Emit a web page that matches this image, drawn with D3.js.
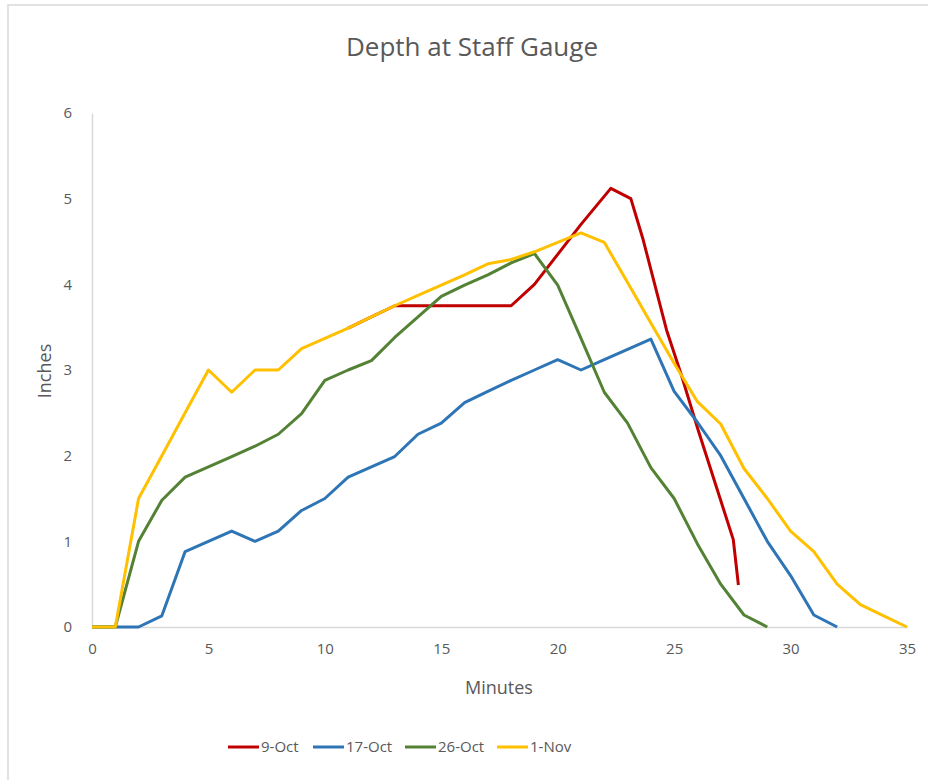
<!DOCTYPE html>
<html>
<head>
<meta charset="utf-8">
<script src="https://cdn.jsdelivr.net/npm/d3@7"></script>
<style>
  body { margin: 0; background: #fff; }
  svg { font-family: "Open Sans", "Liberation Sans", sans-serif; }
</style>
</head>
<body>
<div id="chart"></div>
<script>
// minutes for the three series read once a minute
var minutes = d3.range(0, 36);

var oct17 = [0, 0, 0, 0.13, 0.88, 1.0, 1.12, 1.0, 1.12, 1.36, 1.5, 1.75, 1.87, 1.99, 2.25, 2.38,
    2.62, 2.75, 2.88, 3.0, 3.12, 3.0, 3.12, 3.24, 3.36, 2.75, 2.39, 2.0, 1.5, 1.0, 0.6, 0.14, 0];
var oct26 = [0, 0, 1.0, 1.48, 1.75, 1.87, 1.99, 2.11, 2.25, 2.49, 2.88, 3.0, 3.11, 3.38, 3.62, 3.86,
    3.99, 4.11, 4.25, 4.36, 3.99, 3.37, 2.74, 2.38, 1.86, 1.5, 0.97, 0.5, 0.14, 0];
var nov1 = [0, 0, 1.5, 2.0, 2.5, 3.0, 2.74, 3.0, 3.0, 3.25, 3.37, 3.49, 3.62, 3.75, 3.87, 3.99,
    4.11, 4.24, 4.29, 4.38, 4.49, 4.6, 4.49, 4.02, 3.55, 3.08, 2.63, 2.37, 1.85, 1.5, 1.12, 0.88,
    0.5, 0.26, 0.13, 0];

// 9-Oct was not read on the minute
var oct9Minutes = [11, 12, 13, 14, 15, 16, 17, 18, 19, 20, 21, 22.28, 23.14, 23.67, 24.67, 25.3, 26.03, 27.54, 27.76];
var oct9 = [3.49, 3.62, 3.75, 3.75, 3.75, 3.75, 3.75, 3.75, 4.0, 4.35, 4.7, 5.12, 5.0, 4.52, 3.47, 2.95, 2.3, 1.02, 0.49];

var seriesNames = ["9-Oct", "17-Oct", "26-Oct", "1-Nov"];
var seriesColors = ["#c00000", "#2e75b6", "#548235", "#ffc000"];
var xTicks = [0, 5, 10, 15, 20, 25, 30, 35];
var yTicks = [0, 1, 2, 3, 4, 5, 6];

function pairs(xs, ys) {
    return ys.map(function(v, i) { return { x: xs[i], y: v }; });
}

var series = [
    pairs(oct9Minutes, oct9),
    pairs(minutes, oct17),
    pairs(minutes, oct26),
    pairs(minutes, nov1)
];

var width = 928, height = 780;
var svg = d3.select("#chart").append("svg")
    .attr("width", width)
    .attr("height", height);

// chart frame
svg.append("rect")
    .attr("x", 8).attr("y", 5)
    .attr("width", width).attr("height", height)
    .attr("fill", "#fff")
    .attr("stroke", "#d9d9d9")
    .attr("stroke-width", 1.5);

var x = d3.scaleLinear().domain([0, 35]).range([92, 907]);
var y = d3.scaleLinear().domain([0, 6]).range([627, 113]);

svg.append("text")
    .attr("x", 472).attr("y", 56)
    .attr("text-anchor", "middle")
    .attr("font-size", 26)
    .attr("fill", "#595959")
    .text("Depth at Staff Gauge");

var xAxis = svg.append("g")
    .attr("transform", "translate(0," + y(0) + ")")
    .call(d3.axisBottom(x).tickValues(xTicks).tickSize(0).tickPadding(16));
var yAxis = svg.append("g")
    .attr("transform", "translate(" + x(0) + ",0)")
    .call(d3.axisLeft(y).tickValues(yTicks).tickFormat(d3.format("d")).tickSize(0).tickPadding(20));

[xAxis, yAxis].forEach(function(a) {
    a.select(".domain").attr("stroke", "#d9d9d9").attr("stroke-width", 1.5);
    a.selectAll(".tick text")
        .attr("font-family", "Open Sans, sans-serif")
        .attr("font-size", 15)
        .attr("fill", "#595959");
});

svg.append("text")
    .attr("x", 499).attr("y", 694)
    .attr("text-anchor", "middle")
    .attr("font-size", 18)
    .attr("fill", "#595959")
    .text("Minutes");

svg.append("text")
    .attr("transform", "translate(51,371) rotate(-90)")
    .attr("text-anchor", "middle")
    .attr("font-size", 18)
    .attr("fill", "#595959")
    .text("Inches");

var line = d3.line()
    .x(function(d) { return x(d.x); })
    .y(function(d) { return y(d.y); });

svg.selectAll("path.series")
    .data(series)
    .enter().append("path")
    .attr("class", "series")
    .attr("d", line)
    .attr("fill", "none")
    .attr("stroke", function(d, i) { return seriesColors[i]; })
    .attr("stroke-width", 3)
    .attr("stroke-linejoin", "round");

// legend
var legendX = [228, 313, 405, 497];
var legend = svg.selectAll("g.legend")
    .data(seriesNames)
    .enter().append("g")
    .attr("class", "legend")
    .attr("transform", function(d, i) { return "translate(" + legendX[i] + ",747)"; });

legend.append("line")
    .attr("x1", 0).attr("x2", 31)
    .attr("stroke", function(d, i) { return seriesColors[i]; })
    .attr("stroke-width", 3);

legend.append("text")
    .attr("x", 33).attr("y", 5)
    .attr("font-size", 15)
    .attr("fill", "#595959")
    .text(function(d) { return d; });
</script>
</body>
</html>
